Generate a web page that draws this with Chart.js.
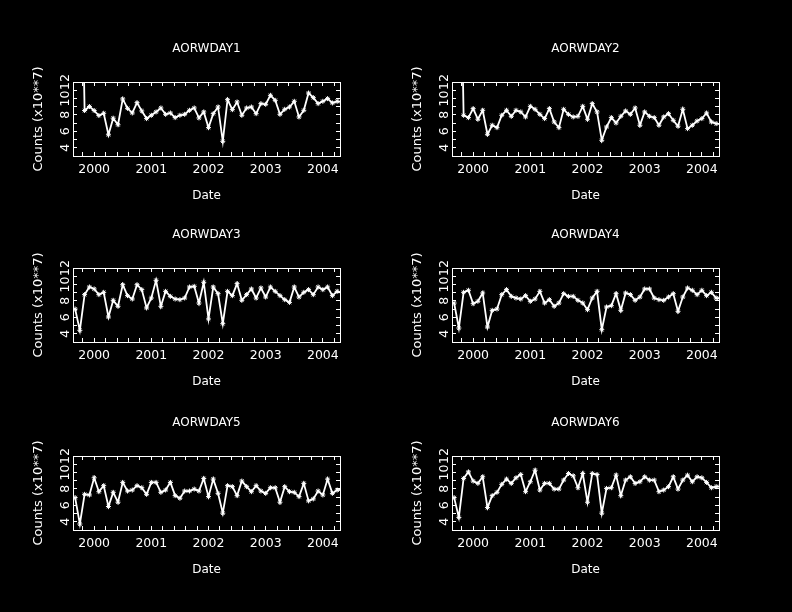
<!DOCTYPE html>
<html><head><meta charset="utf-8">
<script src="https://cdn.jsdelivr.net/npm/chart.js@4"></script>
<style>
html,body{margin:0;padding:0;background:#000;width:792px;height:612px;overflow:hidden;}
.p{position:absolute;width:396px;height:204px;}
</style></head><body>
<div class="p" style="left:0px;top:0px"><canvas id="c1" width="396" height="204"></canvas></div>
<div class="p" style="left:379px;top:0px"><canvas id="c2" width="396" height="204"></canvas></div>
<div class="p" style="left:0px;top:186px"><canvas id="c3" width="396" height="204"></canvas></div>
<div class="p" style="left:379px;top:186px"><canvas id="c4" width="396" height="204"></canvas></div>
<div class="p" style="left:0px;top:374px"><canvas id="c5" width="396" height="204"></canvas></div>
<div class="p" style="left:379px;top:374px"><canvas id="c6" width="396" height="204"></canvas></div>
<script>
// decimal-year dates (monthly samples)
const dates = [1999.667,1999.750,1999.833,1999.917,2000.000,2000.083,2000.167,2000.250,2000.333,2000.417,
  2000.500,2000.583,2000.667,2000.750,2000.833,2000.917,2001.000,2001.083,2001.167,2001.250,
  2001.333,2001.417,2001.500,2001.583,2001.667,2001.750,2001.833,2001.917,2002.000,2002.083,
  2002.167,2002.250,2002.333,2002.417,2002.500,2002.583,2002.667,2002.750,2002.833,2002.917,
  2003.000,2003.083,2003.167,2003.250,2003.333,2003.417,2003.500,2003.583,2003.667,2003.750,
  2003.833,2003.917,2004.000,2004.083,2004.167,2004.250,2004.333];

const titles = ['AORWDAY1','AORWDAY2','AORWDAY3','AORWDAY4','AORWDAY5','AORWDAY6'];

const day1 = [40,40,8.53,9.02,8.53,7.92,8.2,5.58,7.6,6.8,9.94,8.8,8.23,9.49,8.48,7.55,7.95,8.36,8.84,8.07,
  8.23,7.67,7.95,8.07,8.56,8.84,7.63,8.36,6.45,8.15,8.96,4.79,9.85,8.64,9.57,7.95,8.84,8.96,8.15,9.37,
  9.29,10.38,9.77,8.07,8.68,8.96,9.65,7.75,8.56,10.66,10.10,9.37,9.65,9.98,9.45,9.65,9.6];
const day2 = [40,40,7.95,7.67,8.76,7.47,8.56,5.64,6.74,6.45,7.95,8.56,7.83,8.56,8.36,7.75,9.04,8.68,8.07,7.55,
  8.76,7.14,6.45,8.68,8.07,7.75,7.83,9.04,7.47,9.37,8.36,4.91,6.53,7.67,7.02,7.83,8.48,8.07,8.84,6.74,
  8.36,7.83,7.67,6.74,7.75,8.15,7.34,6.62,8.68,6.33,6.74,7.26,7.55,8.23,7.14,6.94,6.9];
const day3 = [7.01,4.42,8.76,9.69,9.45,8.76,9.04,6.04,8.07,7.34,9.97,8.64,8.23,9.97,9.37,7.14,8.35,10.5,7.34,9.16,
  8.55,8.23,8.15,8.35,9.69,9.77,7.74,10.26,5.80,9.69,8.88,5.23,9.16,8.64,10.1,8.07,8.76,9.45,8.35,9.57,
  8.47,9.69,9.16,8.64,8.15,7.82,9.69,8.47,9.04,9.37,8.76,9.69,9.37,9.69,8.64,9.16,9.0];
const day4 = [7.74,4.70,9.04,9.29,7.66,7.95,8.96,4.82,6.85,7.01,8.76,9.37,8.55,8.35,8.23,8.64,7.95,8.23,9.16,7.74,
  8.15,7.34,7.74,8.88,8.55,8.55,8.07,7.74,6.93,8.35,9.16,4.50,7.26,7.42,8.88,6.85,8.96,8.76,8.07,8.47,
  9.45,9.45,8.35,8.15,8.07,8.47,8.88,6.73,8.47,9.57,9.29,8.76,9.29,8.64,9.04,8.35,8.3];
const day5 = [6.94,3.73,7.34,7.26,9.35,7.66,8.39,5.86,7.58,6.38,8.79,7.74,7.86,8.39,8.14,7.34,8.79,8.79,7.58,7.86,
  8.79,7.18,6.86,7.74,7.74,7.98,7.74,9.27,7.06,9.19,7.46,5.05,8.39,8.27,7.18,8.95,8.27,7.66,8.39,7.74,
  7.46,8.14,8.14,6.38,8.27,7.66,7.58,7.06,8.67,6.54,6.78,7.74,7.26,9.19,7.46,7.86,7.9];
const day6 = [6.94,4.53,9.27,10.07,8.95,8.67,9.47,5.73,7.18,7.58,8.55,9.19,8.67,9.35,9.75,7.66,8.87,10.27,7.86,8.67,
  8.67,7.98,7.98,9.07,9.87,9.59,8.14,9.87,6.38,9.87,9.75,5.05,8.06,8.14,9.67,7.18,9.07,9.47,8.67,8.87,
  9.47,9.07,9.07,7.66,7.86,8.27,9.47,7.98,9.07,9.67,8.87,9.47,9.35,8.79,8.14,8.27,8.3];

const xTickLabels = ['2000','2001','2002','2003','2004'];
const yTickLabels = ['4','6','8','10','12'];
const xTitle = 'Date';
const yTitle = 'Counts (x10**7)';
const xMin = 1999.63, xMax = 2004.30, yMin = 3, yMax = 12;

const FONT = 'DejaVu Sans';
Chart.defaults.font.family = FONT;
Chart.defaults.color = '#fff';

function labelFor(v, list){
  if (Math.abs(v - Math.round(v)) > 1e-6) return '';
  const s = String(Math.round(v));
  return list.includes(s) ? s : '';
}
function fixW(w){ return s => { s.width = w; s.paddingLeft = s.paddingRight = s.paddingTop = s.paddingBottom = 0; }; }
function fixH(h){ return s => { s.height = h; s.paddingLeft = s.paddingRight = s.paddingTop = s.paddingBottom = 0; }; }

const gridOpt = {drawOnChartArea:false, drawTicks:true, tickLength:-4, color:'#fff', tickColor:'#fff', lineWidth:1};
const borderOpt = {display:true, color:'#fff', width:1};

function makeChart(id, title, values){
  const pts = dates.map((d,i) => ({x:d, y:values[i]}));
  new Chart(document.getElementById(id), {
    type:'line',
    data:{datasets:[{data:pts, borderColor:'#fff', borderWidth:1.8, tension:0, fill:false,
      pointStyle:'star', pointRadius:2.5, pointBorderColor:'#fff', pointBackgroundColor:'#fff', pointBorderWidth:1}]},
    options:{
      responsive:false, animation:false, devicePixelRatio:1,
      layout:{padding:0},
      plugins:{
        legend:{display:false}, tooltip:{enabled:false},
        title:{display:true, text:title, color:'#fff', fullSize:false,
          font:{family:FONT, size:12, weight:'normal'}, padding:{top:41.5, bottom:26.1}}
      },
      scales:{
        x:{type:'linear', position:'bottom', min:xMin, max:xMax, afterFit:fixH(48),
          border:borderOpt, grid:gridOpt,
          ticks:{stepSize:0.2, includeBounds:false, autoSkip:false, minRotation:0, maxRotation:0,
            padding:9.8, color:'#fff', font:{family:FONT, size:12.5},
            callback:v => labelFor(v, xTickLabels)},
          title:{display:true, text:xTitle, color:'#fff', font:{family:FONT, size:12}, padding:{top:0, bottom:1}}},
        x2:{type:'linear', axis:'x', position:'top', min:xMin, max:xMax, afterFit:fixH(0),
          border:borderOpt, grid:gridOpt,
          ticks:{stepSize:0.2, includeBounds:false, autoSkip:false, maxRotation:0, callback:() => ''}},
        y:{type:'linear', position:'left', min:yMin, max:yMax, afterFit:fixW(73),
          border:borderOpt, grid:gridOpt,
          ticks:{stepSize:1, autoSkip:false, minRotation:90, maxRotation:90, crossAlign:'center',
            padding:3.55, color:'#fff', font:{family:FONT, size:12.5},
            callback:v => labelFor(v, yTickLabels)},
          title:{display:true, text:yTitle, color:'#fff', font:{family:FONT, size:13}, padding:{top:30.7, bottom:0}}},
        y2:{type:'linear', axis:'y', position:'right', min:yMin, max:yMax, afterFit:fixW(56),
          border:borderOpt, grid:gridOpt,
          ticks:{stepSize:1, autoSkip:false, callback:() => ''}}
      }
    }
  });
}

const series = [day1, day2, day3, day4, day5, day6];
series.forEach((vals, i) => makeChart('c' + (i+1), titles[i], vals));
</script>
</body></html>
